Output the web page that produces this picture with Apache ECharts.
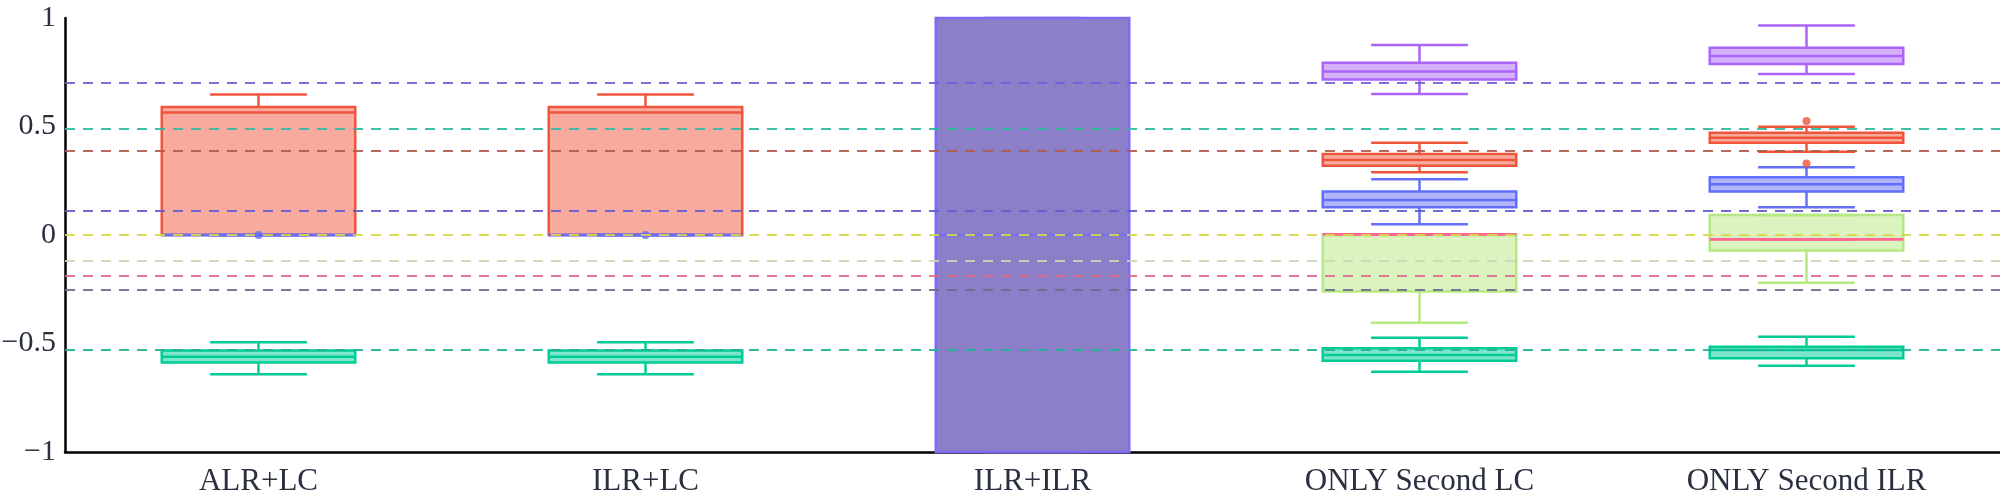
<!DOCTYPE html>
<html>
<head>
<meta charset="utf-8">
<title>boxplot</title>
<script src="https://cdn.jsdelivr.net/npm/echarts@6.0.0/dist/echarts.min.js"></script>
<style>
  html, body { margin: 0; padding: 0; background: #fff; }
  #chart { width: 2000px; height: 500px; }
</style>
</head>
<body>
<div id="chart"></div>
<script>
// categories on the x axis
var categories = ['ALR+LC', 'ILR+LC', 'ILR+ILR', 'ONLY Second LC', 'ONLY Second ILR']

// box values per category: [min, Q1, median, Q3, max], null = no box
var purpleBox = [null, null, [-1, -1, 0, 1, 1], [0.65, 0.717, 0.753, 0.794, 0.876], [0.742, 0.788, 0.825, 0.863, 0.965]]
var redBox = [[0, 0, 0.565, 0.59, 0.647], [0, 0, 0.565, 0.59, 0.647], null, [0.289, 0.319, 0.346, 0.373, 0.425], [0.384, 0.425, 0.448, 0.471, 0.499]]
var blueBox = [[0, 0, 0, 0, 0], [0, 0, 0, 0, 0], null, [0.049, 0.128, 0.161, 0.2, 0.257], [0.128, 0.2, 0.234, 0.266, 0.312]]
var limeBox = [null, null, null, [-0.404, -0.26, 0, 0.003, 0.003], [-0.22, -0.072, -0.02, 0.092, 0.092]]
var pinkBox = [null, null, null, [0.003, 0.003, 0.003, 0.003, 0.003], [-0.02, -0.02, -0.02, -0.02, -0.02]]
var greenBox = [[-0.642, -0.588, -0.561, -0.532, -0.494], [-0.642, -0.588, -0.561, -0.532, -0.494], null, [-0.63, -0.579, -0.553, -0.522, -0.473], [-0.602, -0.568, -0.53, -0.515, -0.469]]

// outliers: [category index, value]
var redOutliers = [[4, 0.525], [4, 0.33]]
var blueOutliers = [[0, 0], [1, 0]]

// dashed reference levels
var refLevels = [0.704, 0.494, 0.393, 0.114, 0, -0.124, -0.187, -0.252, -0.533]
var refColors = ['#6a60d8', '#2fb8a0', '#b05a4c', '#5e5ccc', '#d6d64a', '#c9d6b0', '#e0688a', '#6e6a8c', '#1fb393']

var chart = echarts.init(document.getElementById('chart'))

// box + whiskers with caps half as wide as the box
function renderBox(params, api) {
  var x = api.value(0)
  var band = api.size([1, 0])[0]
  var half = band * 0.25
  var cap = half / 2
  var pMin = api.coord([x, api.value(1)])
  var pQ1 = api.coord([x, api.value(2)])
  var pMed = api.coord([x, api.value(3)])
  var pQ3 = api.coord([x, api.value(4)])
  var pMax = api.coord([x, api.value(5)])
  var cx = pMed[0]
  var st = api.style()
  var solid = api.value(6) === 1
  var stroke = solid ? '#7b6cf2' : st.stroke
  var fill = solid ? '#8b80c8' : st.fill
  var lw = 2.5
  function seg(x1, y1, x2, y2) {
    return { type: 'line', shape: { x1: x1, y1: y1, x2: x2, y2: y2 }, style: { stroke: stroke, lineWidth: lw } }
  }
  return {
    type: 'group',
    children: [
      seg(cx, pQ3[1], cx, pMax[1]),
      seg(cx, pQ1[1], cx, pMin[1]),
      seg(cx - cap, pMax[1], cx + cap, pMax[1]),
      seg(cx - cap, pMin[1], cx + cap, pMin[1]),
      {
        type: 'rect',
        shape: { x: cx - half, y: pQ3[1], width: half * 2, height: pQ1[1] - pQ3[1] },
        style: { fill: fill, stroke: stroke, lineWidth: lw }
      },
      seg(cx - half, pMed[1], cx + half, pMed[1])
    ]
  }
}

function boxSeries(name, boxes, color, fill) {
  var data = []
  boxes.forEach(function(b, i) {
    if (b) data.push([i].concat(b).concat([b[0] === -1 ? 1 : 0]))
  })
  return {
    name: name,
    type: 'custom',
    renderItem: renderBox,
    data: data,
    encode: { x: 0, y: [1, 2, 3, 4, 5] },
    itemStyle: { color: fill, borderColor: color },
    silent: true,
    animation: false
  }
}

chart.setOption({
  backgroundColor: '#fff',
  grid: {
    left: 65,
    right: 0,
    top: 18,
    bottom: 48,
    containLabel: false,
    outerBoundsMode: 'none'
  },
  xAxis: {
    type: 'category',
    data: categories,
    axisLine: { onZero: false, lineStyle: { color: '#000', width: 2.5 } },
    axisTick: { show: false },
    axisLabel: {
      fontFamily: 'Liberation Serif',
      fontSize: 31,
      color: '#2a3040',
      margin: 14
    }
  },
  yAxis: {
    type: 'value',
    min: -1,
    max: 1,
    interval: 0.5,
    axisLine: { show: true, lineStyle: { color: '#000', width: 2.5 } },
    axisTick: { show: false },
    splitLine: { show: false },
    axisLabel: {
      fontFamily: 'Liberation Serif',
      fontSize: 30,
      color: '#2a3040',
      margin: 9,
      formatter: function(v) {
        return String(v).replace('-', '\u2212')
      }
    }
  },
  series: [
    boxSeries('purple', purpleBox, '#ab63fa', 'rgba(171,99,250,0.5)'),
    boxSeries('red', redBox, '#ef553b', 'rgba(239,85,59,0.5)'),
    boxSeries('blue', blueBox, '#636efa', 'rgba(99,110,250,0.5)'),
    boxSeries('lime', limeBox, '#b6e880', 'rgba(182,232,128,0.5)'),
    boxSeries('pink', pinkBox, '#ff6692', 'rgba(255,102,146,0.5)'),
    boxSeries('green', greenBox, '#00cc96', 'rgba(0,204,150,0.5)'),
    {
      type: 'scatter',
      data: redOutliers,
      symbolSize: 8,
      itemStyle: { color: '#ef553b' },
      silent: true,
      animation: false
    },
    {
      type: 'scatter',
      data: blueOutliers,
      symbolSize: 8,
      itemStyle: { color: '#636efa' },
      silent: true,
      animation: false
    },
    {
      type: 'line',
      data: [],
      z: 10,
      animation: false,
      markLine: {
        silent: true,
        symbol: 'none',
        label: { show: false },
        animation: false,
        data: refLevels.map(function(v, k) {
          return { yAxis: v, lineStyle: { color: refColors[k], type: [10, 8], width: 2, opacity: 0.9 } }
        })
      }
    }
  ]
})
</script>
</body>
</html>
